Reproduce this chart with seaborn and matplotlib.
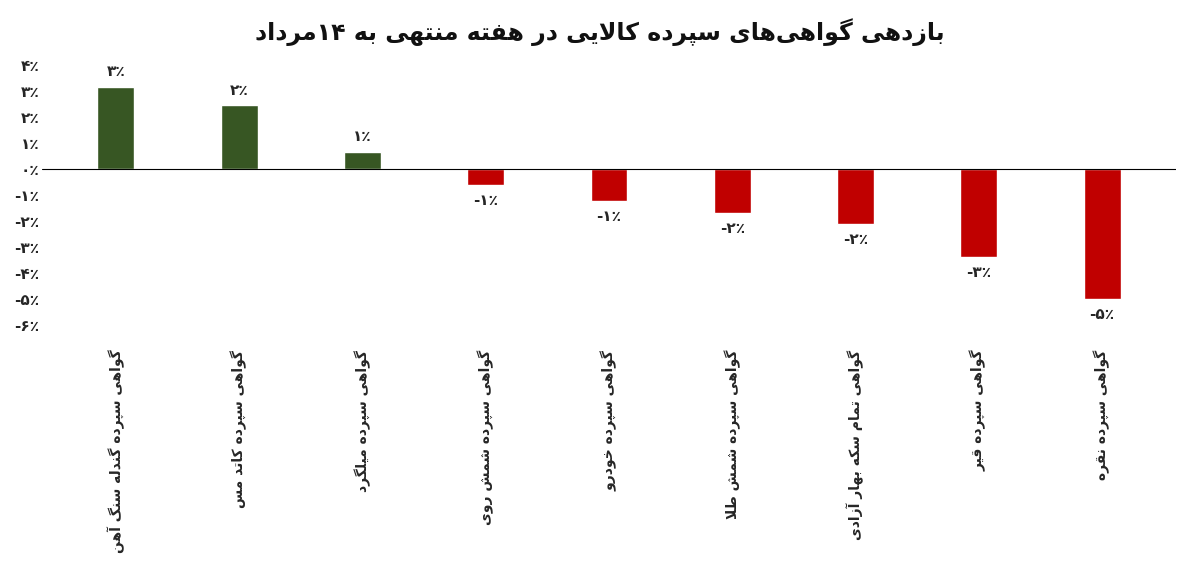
import matplotlib
matplotlib.use("Agg")
import matplotlib.pyplot as plt
import seaborn as sns
import pandas as pd

title = "بازدهی گواهی‌های سپرده کالایی در هفته منتهی به ۱۴مرداد"
categories = ["گواهی سپرده گندله سنگ آهن", "گواهی سپرده کاتد مس", "گواهی سپرده میلگرد",
              "گواهی سپرده شمش روی", "گواهی سپرده خودرو", "گواهی سپرده شمش طلا",
              "گواهی تمام سکه بهار آزادی", "گواهی سپرده قیر", "گواهی سپرده نقره"]
values = [3.15, 2.45, 0.65, -0.62, -1.23, -1.68, -2.1, -3.38, -5.0]
value_labels = ["۳٪", "۲٪", "۱٪", "-۱٪", "-۱٪", "-۲٪", "-۲٪", "-۳٪", "-۵٪"]
yticks = [4, 3, 2, 1, 0, -1, -2, -3, -4, -5, -6]
ytick_labels = ["۴٪", "۳٪", "۲٪", "۱٪", "۰٪", "-۱٪", "-۲٪", "-۳٪", "-۴٪", "-۵٪", "-۶٪"]

# minimal Persian shaper
F = {
 'ا': (0xFE8D, 0xFE8E, None, None), 'آ': (0xFE81, 0xFE82, None, None),
 'ب': (0xFE8F, 0xFE90, 0xFE91, 0xFE92), 'پ': (0xFB56, 0xFB57, 0xFB58, 0xFB59),
 'ت': (0xFE95, 0xFE96, 0xFE97, 0xFE98), 'خ': (0xFEA5, 0xFEA6, 0xFEA7, 0xFEA8),
 'د': (0xFEA9, 0xFEAA, None, None), 'ر': (0xFEAD, 0xFEAE, None, None),
 'ز': (0xFEAF, 0xFEB0, None, None), 'س': (0xFEB1, 0xFEB2, 0xFEB3, 0xFEB4),
 'ش': (0xFEB5, 0xFEB6, 0xFEB7, 0xFEB8), 'ص': (0xFEB9, 0xFEBA, 0xFEBB, 0xFEBC),
 'ط': (0xFEC1, 0xFEC2, 0xFEC3, 0xFEC4), 'ف': (0xFED1, 0xFED2, 0xFED3, 0xFED4),
 'ق': (0xFED5, 0xFED6, 0xFED7, 0xFED8), 'ک': (0xFB8E, 0xFB8F, 0xFB90, 0xFB91),
 'گ': (0xFB92, 0xFB93, 0xFB94, 0xFB95), 'ل': (0xFEDD, 0xFEDE, 0xFEDF, 0xFEE0),
 'م': (0xFEE1, 0xFEE2, 0xFEE3, 0xFEE4), 'ن': (0xFEE5, 0xFEE6, 0xFEE7, 0xFEE8),
 'ه': (0xFEE9, 0xFEEA, 0xFEEB, 0xFEEC), 'و': (0xFEED, 0xFEEE, None, None),
 'ی': (0xFBFC, 0xFBFD, 0xFBFE, 0xFBFF),
 'لا': (0xFEFB, 0xFEFC, None, None), 'لآ': (0xFEF5, 0xFEF6, None, None),
}

def shape(s):
    toks = []
    i = 0
    while i < len(s):
        if s[i] == 'ل' and i + 1 < len(s) and s[i+1] in 'اآ':
            toks.append(s[i:i+2]); i += 2
        else:
            toks.append(s[i]); i += 1
    out = []
    for k, t in enumerate(toks):
        if t not in F:
            out.append('' if t == '\u200c' else t); continue
        prev = toks[k-1] if k > 0 else None
        nxt = toks[k+1] if k + 1 < len(toks) else None
        jp = prev in F and F[prev][2] is not None
        jn = nxt in F and F[t][2] is not None
        iso, fin, ini, med = F[t]
        if jp and jn: c = med
        elif jp: c = fin
        elif jn: c = ini
        else: c = iso
        out.append(chr(c))
    vis = ''.join(out)[::-1]
    res, run = [], ''
    for ch in vis:
        if '\u06f0' <= ch <= '\u06f9' or ch.isdigit():
            run += ch
        else:
            if run: res.append(run[::-1]); run = ''
            res.append(ch)
    if run: res.append(run[::-1])
    return ''.join(res)

sns.set_style("white")
plt.rcParams['font.family'] = ['DejaVu Sans']

df = pd.DataFrame({"cat": [shape(c) for c in categories], "val": values})
colors = ["#375623" if v > 0 else "#C00000" for v in values]

fig = plt.figure(figsize=(12, 5.81), dpi=100)
ax = fig.add_axes([0.035, 0.44, 0.945, 0.448])
sns.barplot(data=df, x="cat", y="val", hue="cat", palette=colors, legend=False,
            width=0.3, ax=ax, saturation=1)
ax.set_ylim(-6, 4)
ax.set_xlim(-0.6, 8.6)
ax.set_yticks(yticks)
ax.set_yticklabels(ytick_labels, fontsize=11, fontweight='bold')
ax.tick_params(axis='y', length=0, pad=2)
ax.axhline(0, color='black', lw=0.8)
for s in ax.spines.values():
    s.set_visible(False)
ax.set_xlabel(""); ax.set_ylabel("")
ax.xaxis.set_ticks_position('none')
ax.set_xticks(range(len(categories)))
ax.set_xticklabels(df["cat"], rotation=90, fontsize=10, fontweight='bold',
                   va='top', ha='center', rotation_mode='default')
ax.tick_params(axis='x', pad=14)
for i, (v, lab) in enumerate(zip(values, value_labels)):
    ax.text(i, v + (0.3 if v > 0 else -0.3), lab, ha='center',
            va='bottom' if v > 0 else 'top', fontsize=11, fontweight='bold')
fig.text(0.5, 0.945, shape(title), ha='center', va='center', fontsize=17,
         fontweight='bold', color='#111111')
fig.savefig("out.png", dpi=100)
